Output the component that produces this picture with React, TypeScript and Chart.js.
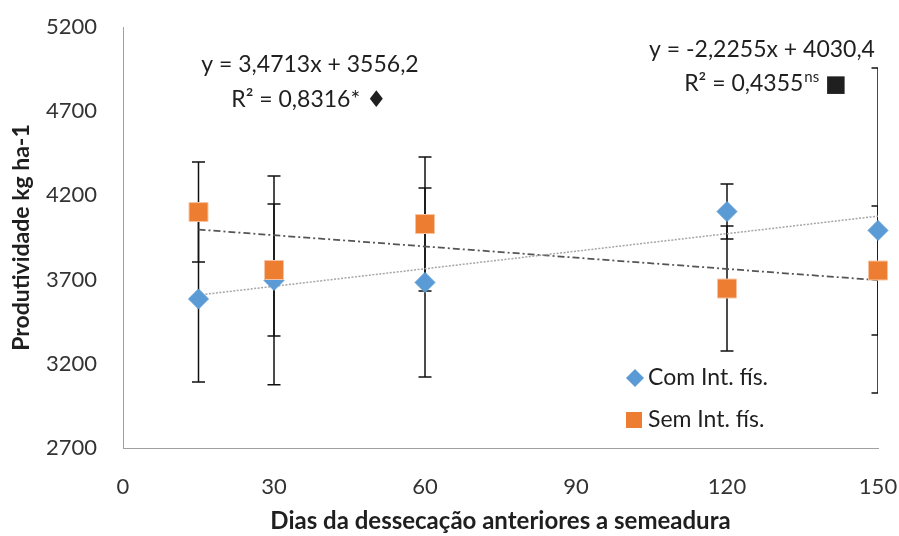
import React, { useEffect, useRef } from "react";
import { Chart, registerables } from "chart.js";

Chart.register(...registerables);

// ---- data ----
const days = [15, 30, 60, 120, 150];
const comValues = [3585, 3695, 3683, 4104, 3992];
const comErrors = [493, 620, 561, 163, 965];
const semValues = [4101, 3757, 4030, 3647, 3754];
const semErrors = [297, 392, 398, 371, 383];
const trendDays = [15, 150];
const comTrend = [3608.3, 4076.9];
const semTrend = [3997.0, 3696.6];
const xTicks = [0, 30, 60, 90, 120, 150];
const yTicks = [2700, 3200, 3700, 4200, 4700, 5200];
const seriesNames = ["Com Int. fís.", "Sem Int. fís."];
const comEquation = "y = 3,4713x + 3556,2";
const comR2 = "R² = 0,8316* ♦";
const semEquation = "y = -2,2255x + 4030,4";
const semR2 = "R² = 0,4355";
const semR2Sup = "ns";
const semR2Mark = " ■";
const xTitle = "Dias da dessecação anteriores a semeadura";
const yTitle = "Produtividade kg ha-1";

const BLUE = "#5B9BD5";
const ORANGE = "#ED7D31";
const TEXT = "#1f1f1f";
const FONT = 'Lato, "DejaVu Sans", sans-serif';
const ANN = 23;

const errorBarPlugin = {
  id: "errorBars",
  beforeDatasetsDraw(chart: any) {
    const { ctx, chartArea, scales } = chart;
    const x = scales.x;
    const y = scales.y;
    ctx.save();
    ctx.beginPath();
    ctx.rect(chartArea.left, chartArea.top, chartArea.right - chartArea.left, chartArea.bottom - chartArea.top);
    ctx.clip();
    ctx.strokeStyle = "#111";
    ctx.lineWidth = 1.5;
    const cap = 6.5;
    const draw = (vals: number[], errs: number[]) => {
      vals.forEach((v, i) => {
        const px = x.getPixelForValue(days[i]);
        const top = y.getPixelForValue(v + errs[i]);
        const bot = y.getPixelForValue(v - errs[i]);
        ctx.beginPath();
        ctx.moveTo(px, top);
        ctx.lineTo(px, bot);
        ctx.moveTo(px - cap, top);
        ctx.lineTo(px + cap, top);
        ctx.moveTo(px - cap, bot);
        ctx.lineTo(px + cap, bot);
        ctx.stroke();
      });
    };
    draw(comValues, comErrors);
    draw(semValues, semErrors);
    ctx.restore();
  },
};

const annotationPlugin = {
  id: "annotations",
  afterDraw(chart: any) {
    const { ctx, chartArea } = chart;
    const L = chartArea.left;
    const T = chartArea.top;
    ctx.save();
    ctx.fillStyle = TEXT;
    ctx.textBaseline = "middle";
    ctx.font = `${ANN}px ${FONT}`;
    ctx.textAlign = "center";
    // left equation (Com)
    ctx.fillText(comEquation, L + 187, T + 38);
    ctx.fillText(comR2, L + 186, T + 73);
    // right equation (Sem)
    ctx.fillText(semEquation, L + 639, T + 23);
    ctx.textAlign = "left";
    const w1 = ctx.measureText(semR2).width;
    ctx.font = `15px ${FONT}`;
    const w2 = ctx.measureText(semR2Sup).width;
    ctx.font = `${ANN}px ${FONT}`;
    const w3 = ctx.measureText(semR2Mark).width;
    let sx = L + 642 - (w1 + w2 + w3) / 2;
    const sy = T + 57;
    ctx.fillText(semR2, sx, sy);
    sx += w1;
    ctx.font = `15px ${FONT}`;
    ctx.fillText(semR2Sup, sx + 1, sy - 7);
    sx += w2 + 1;
    ctx.font = `${ANN}px ${FONT}`;
    ctx.fillText(semR2Mark, sx, sy);

    // legend
    const lx = L + 512;
    const ly1 = T + 351;
    const ly2 = T + 393;
    ctx.fillStyle = BLUE;
    ctx.beginPath();
    ctx.moveTo(lx, ly1 - 9);
    ctx.lineTo(lx + 9, ly1);
    ctx.lineTo(lx, ly1 + 9);
    ctx.lineTo(lx - 9, ly1);
    ctx.closePath();
    ctx.fill();
    ctx.fillStyle = ORANGE;
    ctx.fillRect(lx - 9, ly2 - 8, 16, 16);
    ctx.fillStyle = TEXT;
    ctx.font = `${ANN}px ${FONT}`;
    ctx.textAlign = "left";
    ctx.fillText(seriesNames[0], lx + 13, ly1);
    ctx.fillText(seriesNames[1], lx + 13, ly2);
    ctx.restore();
  },
};

export default function App() {
  const canvasRef = useRef<HTMLCanvasElement | null>(null);

  useEffect(() => {
    const canvas = canvasRef.current;
    if (!canvas) return;
    const chart = new Chart(canvas, {
      type: "scatter",
      data: {
        datasets: [
          {
            label: seriesNames[1],
            data: days.map((d, i) => ({ x: d, y: semValues[i] })),
            pointStyle: "rect",
            pointRadius: 13.4,
            pointHoverRadius: 13.4,
            backgroundColor: ORANGE,
            borderColor: "#F6C3A0",
            borderWidth: 1,
            order: 0,
            clip: false,
          },
          {
            label: seriesNames[0],
            data: days.map((d, i) => ({ x: d, y: comValues[i] })),
            pointStyle: "rectRot",
            pointRadius: 10,
            pointHoverRadius: 10,
            backgroundColor: BLUE,
            borderColor: BLUE,
            borderWidth: 1,
            order: 1,
            clip: false,
          },
          {
            label: "trend com",
            data: trendDays.map((d, i) => ({ x: d, y: comTrend[i] })),
            showLine: true,
            pointRadius: 0,
            borderColor: "#A6A6A6",
            borderWidth: 1.5,
            borderDash: [2, 1.5],
            order: 2,
          },
          {
            label: "trend sem",
            data: trendDays.map((d, i) => ({ x: d, y: semTrend[i] })),
            showLine: true,
            pointRadius: 0,
            borderColor: "#555555",
            borderWidth: 1.75,
            borderDash: [7, 3, 2, 3],
            order: 3,
          },
        ],
      },
      options: {
        responsive: false,
        animation: false,
        events: [],
        layout: { padding: { top: 27, right: 21, left: 0, bottom: 0 } },
        plugins: { legend: { display: false }, tooltip: { enabled: false } },
        scales: {
          x: {
            type: "linear",
            min: 0,
            max: 150,
            afterBuildTicks: (scale: any) => {
              scale.ticks = xTicks.map((v) => ({ value: v }));
            },
            afterFit: (scale: any) => {
              scale.height = 88;
              scale.paddingLeft = 0;
              scale.paddingRight = 0;
              scale.paddingTop = 0;
              scale.paddingBottom = 0;
            },
            grid: { display: false, drawTicks: false },
            border: { display: true, color: "#A0A0A0", width: 1 },
            ticks: {
              padding: 26,
              color: "#333",
              font: { family: FONT, size: 22 },
              callback: (v: any) => String(v),
              maxRotation: 0,
            },
            title: {
              display: true,
              text: xTitle,
              color: TEXT,
              font: { family: FONT, size: 24, weight: "bold" },
              padding: { top: 0, bottom: 0 },
            },
          },
          y: {
            type: "linear",
            min: 2700,
            max: 5200,
            afterBuildTicks: (scale: any) => {
              scale.ticks = yTicks.map((v) => ({ value: v }));
            },
            afterFit: (scale: any) => {
              scale.width = 123;
              scale.paddingLeft = 0;
              scale.paddingRight = 0;
              scale.paddingTop = 0;
              scale.paddingBottom = 0;
            },
            grid: { display: false, drawTicks: false },
            border: { display: true, color: "#A0A0A0", width: 1 },
            ticks: {
              padding: 26,
              color: "#333",
              font: { family: FONT, size: 22 },
              callback: (v: any) => String(v),
            },
            title: {
              display: true,
              text: yTitle,
              color: TEXT,
              font: { family: FONT, size: 23, weight: "bold" },
              padding: { top: 8, bottom: 0 },
            },
          },
        },
      },
      plugins: [errorBarPlugin, annotationPlugin],
    });
    return () => chart.destroy();
  }, []);

  return (
    <div style={{ position: "fixed", left: 0, top: 0, width: 899, height: 536, background: "#fff" }}>
      <canvas ref={canvasRef} width={899} height={536} style={{ width: 899, height: 536, display: "block" }} />
    </div>
  );
}
